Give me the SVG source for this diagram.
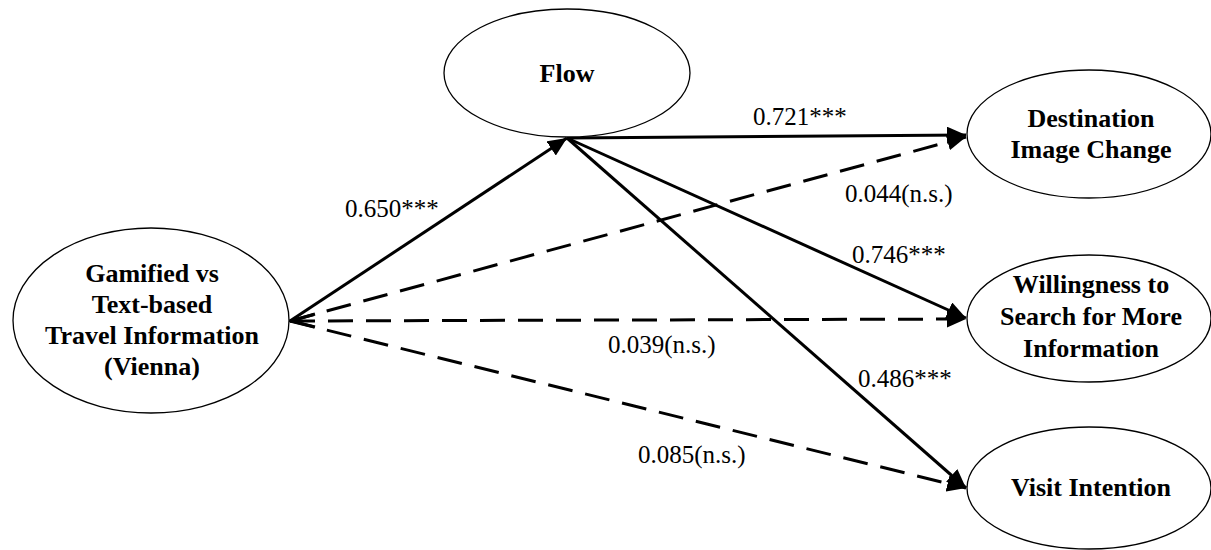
<svg xmlns="http://www.w3.org/2000/svg" width="1211" height="550" viewBox="0 0 1211 550">
<style>
.node{fill:#fff;stroke:#000;stroke-width:1.3}
.nt{font-family:"Liberation Serif","Times New Roman",serif;font-weight:bold;font-size:26px;text-anchor:middle;fill:#000}
.lbl{font-family:"Liberation Serif","Times New Roman",serif;font-size:25px;fill:#000}
.solid{stroke:#000;stroke-width:3;fill:none}
.dash{stroke:#000;stroke-width:3;fill:none;stroke-dasharray:25 13}
</style>
<defs>
<marker id="ah" viewBox="0 0 19 17" refX="19" refY="8.5" markerWidth="19" markerHeight="17" markerUnits="userSpaceOnUse" orient="auto">
<path d="M0,0 L19,8.5 L0,17 Z" fill="#000"/>
</marker>
</defs>
<rect width="1211" height="550" fill="#fff"/>
<g id="connectors">
<line class="dash" x1="290" y1="321" x2="966" y2="137" marker-end="url(#ah)"/>
<line class="dash" x1="290" y1="321" x2="966" y2="319" marker-end="url(#ah)"/>
<line class="dash" x1="290" y1="321" x2="966" y2="488" marker-end="url(#ah)"/>
<line class="solid" x1="290" y1="321" x2="567" y2="138" marker-end="url(#ah)"/>
<polyline class="solid" points="315,314 291,321 315,327" stroke-width="2.5"/>
<line class="solid" x1="567" y1="138" x2="966" y2="135" marker-end="url(#ah)"/>
<line class="solid" x1="567" y1="138" x2="966" y2="318" marker-end="url(#ah)"/>
<line class="solid" x1="567" y1="138" x2="966" y2="488" marker-end="url(#ah)"/>
</g>
<g id="labels">
<text class="lbl" x="345" y="217">0.650***</text>
<text class="lbl" x="753" y="125">0.721***</text>
<text class="lbl" x="845" y="202">0.044(n.s.)</text>
<text class="lbl" x="852" y="263">0.746***</text>
<text class="lbl" x="608" y="353">0.039(n.s.)</text>
<text class="lbl" x="858" y="387">0.486***</text>
<text class="lbl" x="638" y="463">0.085(n.s.)</text>
</g>
<g id="node-gamified">
<ellipse class="node" cx="151" cy="320.5" rx="138" ry="92.5"/>
<text class="nt" x="152" y="282">Gamified vs</text>
<text class="nt" x="152" y="313">Text-based</text>
<text class="nt" x="152" y="344">Travel Information</text>
<text class="nt" x="152" y="375">(Vienna)</text>
</g>
<g id="node-flow">
<ellipse class="node" cx="567" cy="73" rx="123" ry="64"/>
<text class="nt" x="567" y="82">Flow</text>
</g>
<g id="node-destination">
<ellipse class="node" cx="1089" cy="134" rx="122" ry="64"/>
<text class="nt" x="1091" y="127">Destination</text>
<text class="nt" x="1091" y="158">Image Change</text>
</g>
<g id="node-willingness">
<ellipse class="node" cx="1089" cy="318.5" rx="122" ry="63.5"/>
<text class="nt" x="1091" y="293">Willingness to</text>
<text class="nt" x="1091" y="325">Search for More</text>
<text class="nt" x="1091" y="357">Information</text>
</g>
<g id="node-visit">
<ellipse class="node" cx="1089" cy="488" rx="122" ry="61"/>
<text class="nt" x="1091" y="496">Visit Intention</text>
</g>
</svg>
